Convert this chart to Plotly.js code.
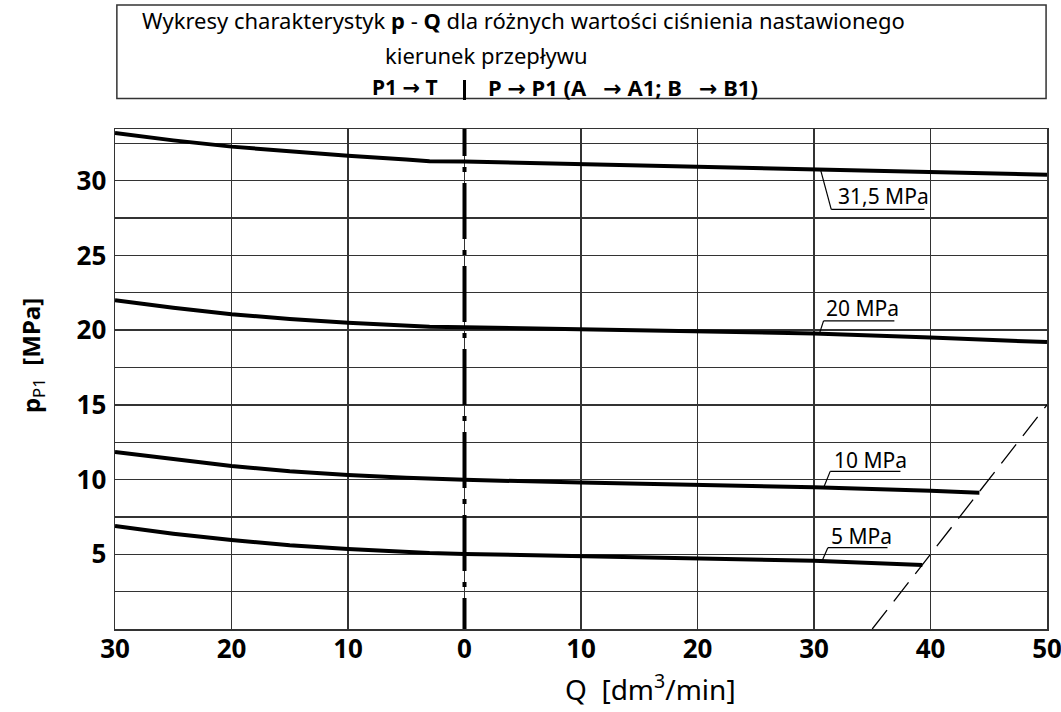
<!DOCTYPE html>
<html><head><meta charset="utf-8">
<script src="https://cdn.plot.ly/plotly-3.0.1.min.js"></script>
<style>html,body{margin:0;padding:0;background:#fff}#chart{width:1061px;height:712px}</style>
</head><body><div id="chart"></div>
<script>
// Flow Q [dm3/min]; negative = P1 -> T side (labelled as positive on the axis)
const flowQ    = [-30,-25,-20,-15,-10,-5,-3,0,10,20,30,40,50];
const p31_5    = [33.2,32.7,32.28,31.95,31.67,31.42,31.3,31.28,31.1,30.93,30.74,30.57,30.4];
const p20      = [22.0,21.5,21.07,20.75,20.5,20.3,20.22,20.2,20.08,19.95,19.78,19.5,19.2];
const flowQ10  = [-30,-25,-20,-15,-10,-5,-3,0,10,20,30,40,44.2];
const p10      = [11.85,11.35,10.91,10.55,10.3,10.12,10.05,9.98,9.8,9.65,9.48,9.25,9.12];
const flowQ5   = [-30,-25,-20,-15,-10,-5,-3,0,10,20,30,39.3];
const p5       = [6.89,6.38,5.95,5.6,5.35,5.15,5.08,5.02,4.88,4.75,4.57,4.28];
const limitQ   = [35,50];
const limitP   = [0,15];
const divideQ  = [0,0];
const divideP  = [35.4,0];
const xTickVals = [-30,-20,-10,0,10,20,30,40,50];
const xTickText = ['30','20','10','0','10','20','30','40','50'];
const yTickVals = [5,10,15,20,25,30];
const yTickText = ['5','10','15','20','25','30'];
const curveLabels = ['31,5 MPa','20 MPa','10 MPa','5 MPa'];

const FONT = 'Noto Sans, DejaVu Sans, sans-serif';
const curveLine = {color:'#000', width:4};
function curve(x,y){return {x:x,y:y,type:'scatter',mode:'lines',line:curveLine,hoverinfo:'skip'};}

const traces = [
  curve(flowQ,p31_5), curve(flowQ,p20), curve(flowQ10,p10), curve(flowQ5,p5),
  {x:limitQ,y:limitP,type:'scatter',mode:'lines',line:{color:'#000',width:1.3,dash:'24px,11px'},hoverinfo:'skip'},
  {x:divideQ,y:divideP,type:'scatter',mode:'lines',line:{color:'#000',width:4,dash:'56px,11px,5px,11px'},hoverinfo:'skip'}
];

// label placement: [textX, textY, lineX0, lineX1, lineY, leaderX0, leaderY0]
const labelPos = [
  [31.9, 28.97, 31.48, 39.48, 28.08, 30.56, 30.74],
  [30.9, 21.47, 30.82, 36.9, 20.62, 30.47, 19.78],
  [31.56,11.32, 31.39, 37.42, 10.55, 30.84, 9.48],
  [31.33, 6.2, 31.19, 36.31, 5.44, 30.7, 4.57]
];

const annotations = [];
const shapes = [];
labelPos.forEach((p,i)=>{
  annotations.push({x:p[0],y:p[1],xref:'x',yref:'y',text:curveLabels[i],showarrow:false,xanchor:'left',yanchor:'middle',font:{size:21,family:FONT,color:'#000'}});
  shapes.push({type:'line',xref:'x',yref:'y',x0:p[2],x1:p[3],y0:p[4],y1:p[4],line:{color:'#000',width:1.2}});
  shapes.push({type:'line',xref:'x',yref:'y',x0:p[5],x1:p[2],y0:p[6],y1:p[4],line:{color:'#000',width:1.2}});
});

// header box
shapes.push({type:'rect',xref:'paper',yref:'paper',x0:0.002,x1:0.999,y0:1.061,y1:1.248,line:{color:'#333',width:1.5}});
shapes.push({type:'line',xref:'x',yref:'paper',x0:0,x1:0,y0:1.058,y1:1.098,line:{color:'#000',width:3}});

annotations.push({xref:'paper',yref:'paper',x:0.4378,y:1.2186,xanchor:'center',yanchor:'middle',showarrow:false,
  text:'Wykresy charakterystyk <b>p</b> - <b>Q</b> dla różnych wartości ciśnienia nastawionego',font:{size:22,family:FONT,color:'#000'}});
annotations.push({xref:'paper',yref:'paper',x:0.3986,y:1.147,xanchor:'center',yanchor:'middle',showarrow:false,
  text:'kierunek przepływu',font:{size:22,family:FONT,color:'#000'}});
annotations.push({xref:'paper',yref:'paper',x:0.3487,y:1.0836,xanchor:'right',yanchor:'middle',showarrow:false,
  text:'<b>P1 \u2192 T</b>',font:{size:21,family:FONT,color:'#000'}});
annotations.push({xref:'paper',yref:'paper',x:0.398,y:1.0836,xanchor:'left',yanchor:'middle',showarrow:false,
  text:'<b>P \u2192 P1 (A\u00a0\u00a0 \u2192 A1; B\u00a0\u00a0 \u2192 B1)</b>',font:{size:22,family:FONT,color:'#000'}});

// axis titles
annotations.push({xref:'paper',yref:'paper',x:-0.089,y:0.546,xanchor:'center',yanchor:'middle',showarrow:false,textangle:-90,
  text:'<b>p</b><sub>P1</sub>\u00a0 <b>[MPa]</b>',font:{size:24,family:FONT,color:'#000'}});
annotations.push({xref:'paper',yref:'paper',x:0.575,y:-0.118,xanchor:'center',yanchor:'middle',showarrow:false,
  text:'Q\u00a0 [dm<sup>3</sup>/min]',font:{size:28,family:FONT,color:'#000'}});

const gridStyle = {gridcolor:'#333',gridwidth:1.3};
const axisCommon = {showgrid:true,gridcolor:'#333',gridwidth:1.3,zeroline:false,showline:true,mirror:true,
  linecolor:'#333',linewidth:1.5,ticks:'',fixedrange:true,ticklabeloverflow:'allow',
  tickfont:{size:26,family:FONT,color:'#000',weight:'bold'}};

const layout = {
  width:1061,height:712,paper_bgcolor:'#fff',plot_bgcolor:'#fff',showlegend:false,
  font:{family:FONT,color:'#000'},
  margin:{l:115,r:14,t:129,b:83,pad:0},
  xaxis:Object.assign({},axisCommon,{range:[-30,50],tickmode:'array',tickvals:xTickVals,ticktext:xTickText,ticklabelstandoff:-4}),
  yaxis:Object.assign({},axisCommon,{range:[0,33.46],tickmode:'array',tickvals:yTickVals,ticktext:yTickText,ticklabelstandoff:2,
    minor:Object.assign({dtick:2.5,tick0:0,showgrid:true,ticks:''},gridStyle)}),
  annotations:annotations,shapes:shapes
};

Plotly.newPlot('chart',traces,layout,{displayModeBar:false,staticPlot:true});
</script></body></html>
